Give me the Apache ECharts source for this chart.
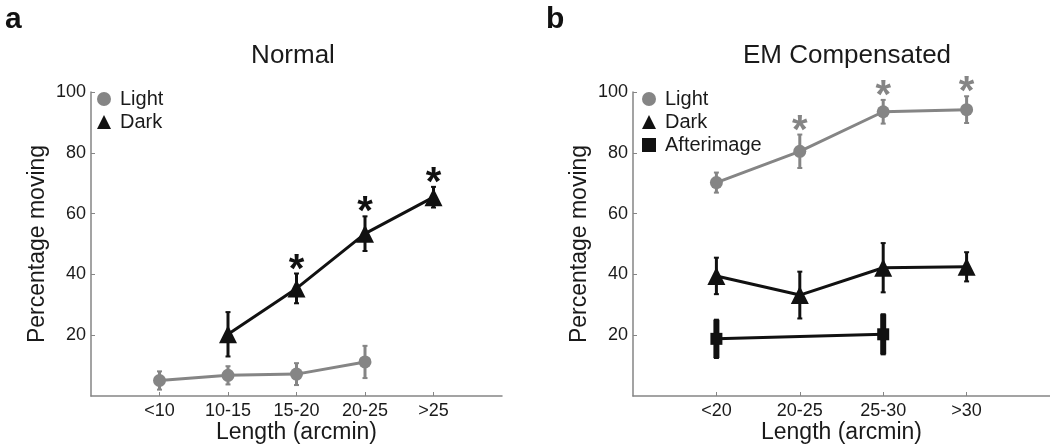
<!DOCTYPE html>
<html>
<head>
<meta charset="utf-8">
<script src="https://cdn.jsdelivr.net/npm/echarts@6/dist/echarts.min.js"></script>
<style>html,body{margin:0;padding:0;background:#fff;}#c{width:1050px;height:447px;}</style>
</head>
<body>
<div id="c"></div>
<script>
// ---- Data ----
const catsA = ['<10', '10-15', '15-20', '20-25', '>25'];
const lightA = [5.1, 6.8, 7.2, 11.2, null];
const lightAErr = [3.0, 3.0, 3.6, 5.3, null];
const darkA = [null, 20.3, 35.4, 53.4, 65.4];
const darkAErr = [null, 7.3, 4.9, 5.7, 3.4];
const darkAStars = [false, false, true, true, true];

const catsB = ['<20', '20-25', '25-30', '>30'];
const lightB = [70.2, 80.5, 93.5, 94.2];
const lightBErr = [3.3, 5.5, 3.9, 4.4];
const lightBStars = [false, true, true, true];
const darkB = [39.5, 33.2, 42.2, 42.5];
const darkBErr = [6.0, 7.7, 8.1, 4.8];
const afterB = [18.8, null, 20.3, null];
const afterBErr = [6.3, null, 6.6, null];

const yTicks = [0, 20, 40, 60, 80, 100];

// ---- Helpers ----
const GRAY = '#858585';
const BLACK = '#111111';
const FONT = 'Liberation Sans, Arial, sans-serif';

function pts(vals) {
  const out = [];
  vals.forEach((v, i) => { if (v != null) out.push([i + 1, v]); });
  return out;
}
function errs(vals, e) {
  const out = [];
  vals.forEach((v, i) => { if (v != null && e[i] != null) out.push([i + 1, v - e[i], v + e[i]]); });
  return out;
}
function starPts(vals, e, flags) {
  const out = [];
  vals.forEach((v, i) => { if (flags[i]) out.push([i + 1, v + e[i]]); });
  return out;
}
function errRender(width, capW) {
  return function (params, api) {
    const x = api.value(0), lo = api.value(1), hi = api.value(2);
    const p1 = api.coord([x, lo]), p2 = api.coord([x, hi]);
    const c = api.visual('color');
    const st = { stroke: c, lineWidth: width };
    return {
      type: 'group',
      children: [
        { type: 'line', shape: { x1: p1[0], y1: p1[1], x2: p2[0], y2: p2[1] }, style: st },
        { type: 'line', shape: { x1: p1[0] - capW / 2, y1: p1[1], x2: p1[0] + capW / 2, y2: p1[1] }, style: { stroke: c, lineWidth: 2 } },
        { type: 'line', shape: { x1: p2[0] - capW / 2, y1: p2[1], x2: p2[0] + capW / 2, y2: p2[1] }, style: { stroke: c, lineWidth: 2 } }
      ]
    };
  };
}
function starRender(params, api) {
  const p = api.coord([api.value(0), api.value(1)]);
  return {
    type: 'text',
    style: {
      text: '*', x: p[0], y: p[1] + 17, fill: api.visual('color'),
      font: 'bold 40px ' + FONT, textAlign: 'center', textVerticalAlign: 'bottom'
    }
  };
}
function xAxisFor(idx, cats) {
  const n = cats.length;
  const vals = cats.map((c, i) => i + 1);
  return {
    type: 'value', gridIndex: idx, min: 0, max: n + 1, interval: 1,
    name: 'Length (arcmin)', nameLocation: 'middle', nameGap: 25, nameMoveOverlap: false,
    nameTextStyle: { fontFamily: FONT, fontSize: 23, color: '#1a1a1a' },
    axisLine: { lineStyle: { color: GRAY, width: 1.5 } },
    axisTick: { inside: true, length: 4, lineStyle: { color: GRAY, width: 1 }, customValues: vals },
    axisLabel: { customValues: vals, formatter: v => cats[Math.round(v) - 1] || '', fontFamily: FONT, fontSize: 18, color: '#1a1a1a', margin: 6 },
    splitLine: { show: false }
  };
}
function yAxisFor(idx) {
  return {
    type: 'value', gridIndex: idx, min: 0, max: 100, interval: 20,
    name: 'Percentage moving', nameLocation: 'middle', nameGap: 42, nameMoveOverlap: false,
    nameTextStyle: { fontFamily: FONT, fontSize: 23, color: '#1a1a1a' },
    axisLine: { show: true, lineStyle: { color: GRAY, width: 1.5 } },
    axisTick: { show: true, inside: true, length: 4, lineStyle: { color: GRAY, width: 1 }, customValues: yTicks.slice(1) },
    axisLabel: { customValues: yTicks.slice(1), fontFamily: FONT, fontSize: 18, color: '#1a1a1a', margin: 5 },
    splitLine: { show: false }
  };
}
function lineSeries(name, vals, xi, color, symbol, size) {
  return {
    name: name, type: 'line', xAxisIndex: xi, yAxisIndex: xi, data: pts(vals),
    symbol: symbol, symbolSize: size, itemStyle: { color: color }, z: 4,
    lineStyle: { color: color, width: 3 }, connectNulls: true
  };
}
function errSeries(name, vals, e, xi, color, width) {
  return {
    name: name, type: 'custom', xAxisIndex: xi, yAxisIndex: xi, data: errs(vals, e),
    renderItem: errRender(width, 5), itemStyle: { color: color }, z: 3
  };
}
function starSeries(name, vals, e, flags, xi, color) {
  return {
    name: name, type: 'custom', xAxisIndex: xi, yAxisIndex: xi, data: starPts(vals, e, flags),
    renderItem: starRender, itemStyle: { color: color }, z: 5
  };
}

const chart = echarts.init(document.getElementById('c'), null, { renderer: 'canvas' });
chart.setOption({
  animation: false,
  backgroundColor: '#fff',
  title: [
    { text: 'a', left: 0, top: 0, textStyle: { fontFamily: FONT, fontSize: 30, fontWeight: 'bold', color: '#111' } },
    { text: 'b', left: 541, top: 0, textStyle: { fontFamily: FONT, fontSize: 30, fontWeight: 'bold', color: '#111' } },
    { text: 'Normal', left: 288, top: 38, textAlign: 'center', textStyle: { fontFamily: FONT, fontSize: 26, fontWeight: 'normal', color: '#1a1a1a' } },
    { text: 'EM Compensated', left: 842, top: 38, textAlign: 'center', textStyle: { fontFamily: FONT, fontSize: 26, fontWeight: 'normal', color: '#1a1a1a' } }
  ],
  legend: [
    { orient: 'vertical', left: 97, top: 89, padding: 0, itemWidth: 14, itemHeight: 14, itemGap: 3, selectedMode: false,
      textStyle: { fontFamily: FONT, fontSize: 20, color: '#1a1a1a', padding: [0, 0, 0, 4] },
      data: [{ name: 'Light', icon: 'circle' }, { name: 'Dark', icon: 'triangle' }] },
    { orient: 'vertical', left: 642, top: 89, padding: 0, itemWidth: 14, itemHeight: 14, itemGap: 3, selectedMode: false,
      textStyle: { fontFamily: FONT, fontSize: 20, color: '#1a1a1a', padding: [0, 0, 0, 4] },
      data: [{ name: 'Light', icon: 'circle' }, { name: 'Dark', icon: 'triangle' }, { name: 'Afterimage', icon: 'rect' }] }
  ],
  grid: [
    { left: 91, top: 92, width: 411, height: 304, outerBoundsMode: 'none', containLabel: false },
    { left: 633, top: 92, width: 417, height: 304, outerBoundsMode: 'none', containLabel: false }
  ],
  xAxis: [xAxisFor(0, catsA), xAxisFor(1, catsB)],
  yAxis: [yAxisFor(0), yAxisFor(1)],
  series: [
    errSeries('Light', lightA, lightAErr, 0, GRAY, 3),
    lineSeries('Light', lightA, 0, GRAY, 'circle', 13),
    errSeries('Dark', darkA, darkAErr, 0, BLACK, 3),
    lineSeries('Dark', darkA, 0, BLACK, 'triangle', 18),
    starSeries('Dark', darkA, darkAErr, darkAStars, 0, BLACK),

    errSeries('Light', lightB, lightBErr, 1, GRAY, 3),
    lineSeries('Light', lightB, 1, GRAY, 'circle', 13),
    starSeries('Light', lightB, lightBErr, lightBStars, 1, GRAY),
    errSeries('Dark', darkB, darkBErr, 1, BLACK, 3),
    lineSeries('Dark', darkB, 1, BLACK, 'triangle', 18),
    errSeries('Afterimage', afterB, afterBErr, 1, BLACK, 6),
    lineSeries('Afterimage', afterB, 1, BLACK, 'rect', 12)
  ]
});
</script>
</body>
</html>
